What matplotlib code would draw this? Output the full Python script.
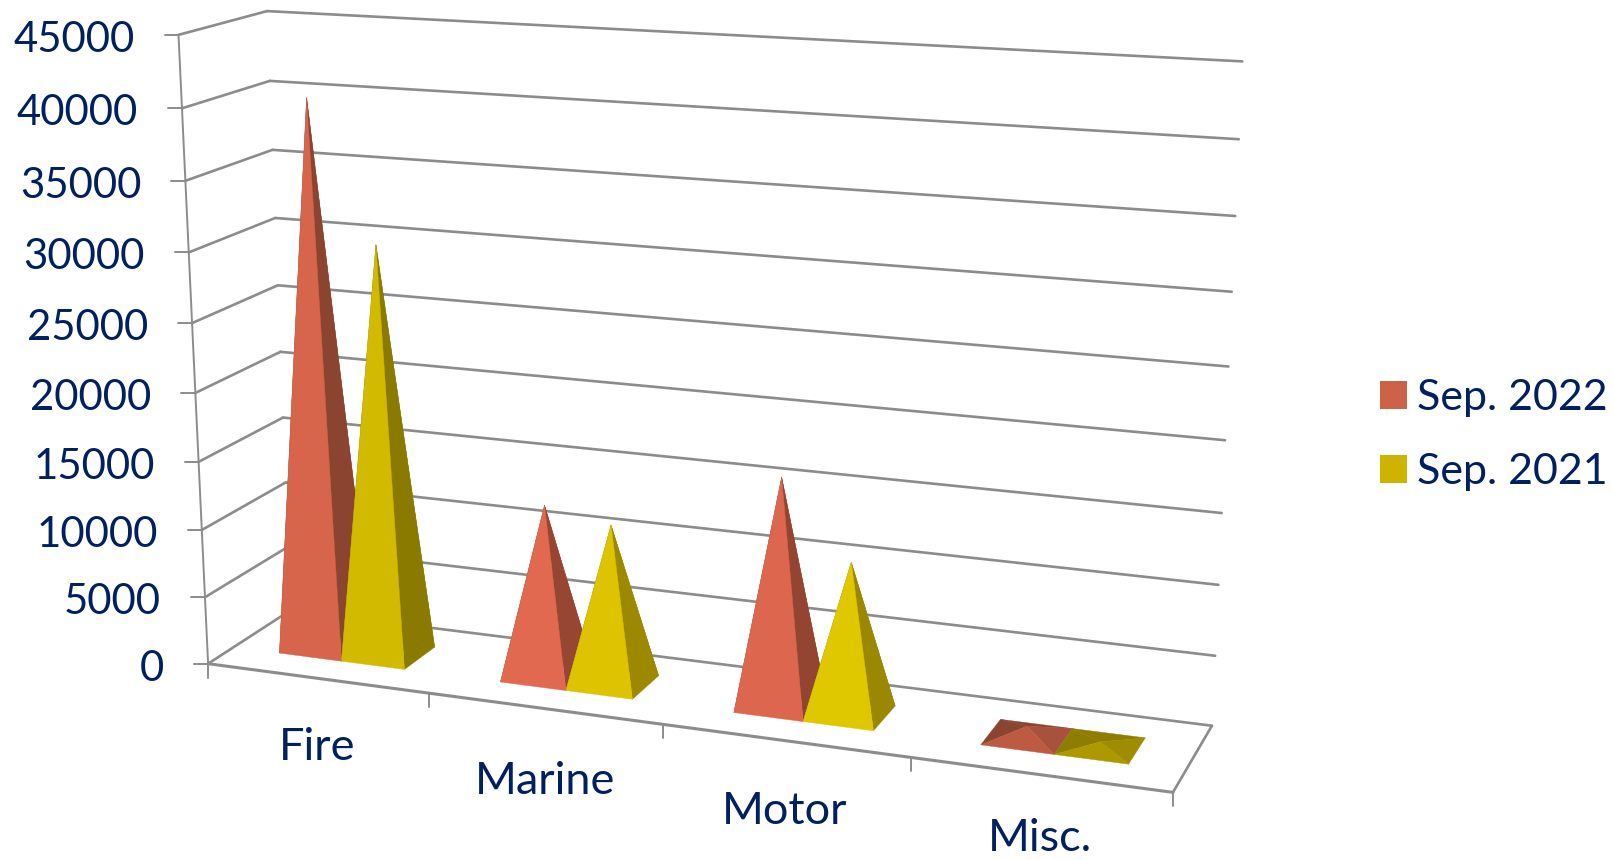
import numpy as np
import matplotlib
matplotlib.use("Agg")
import matplotlib.pyplot as plt
from matplotlib.patches import Polygon, Patch

categories = ["Fire", "Marine", "Motor", "Misc."]
sep_2022 = [40100, 12500, 16300, 750]
sep_2021 = [30100, 11600, 10850, 300]
series_names = ["Sep. 2022", "Sep. 2021"]
value_ticks = [0, 5000, 10000, 15000, 20000, 25000, 30000, 35000, 40000, 45000]

NAVY = "#002060"
GRID = "#8C8C8C"
LEGEND_COLORS = ["#CC6347", "#CCB400"]
LABEL_DROP = [69, 73, 71, 64]
# face shades per category: (front, right, back, left)
RED_SHADES = [("#D6654C", "#8A4430", "#8A4430", "#8A4430"),
              ("#E0694F", "#964633", "#964633", "#964633"),
              ("#DC674E", "#944532", "#944532", "#944532"),
              ("#BD5B42", "#A8513C", "#8A4530", "#8A4530")]
YEL_SHADES = [("#D2BA00", "#8A7A00", "#8A7A00", "#8A7A00"),
              ("#DEC300", "#9C8900", "#9C8900", "#9C8900"),
              ("#E0C800", "#9A8800", "#9A8800", "#9A8800"),
              ("#AE9800", "#A08C00", "#8E7D00", "#8E7D00")]

# camera fit: (category position, value, depth) -> pixel
anchors = [((0, 0, 0), (208, 664)), ((0, 45000, 0), (179, 34.7)),
           ((0, 0, 1), (291.3, 610)), ((0, 45000, 1), (266.6, 11)),
           ((4, 45000, 1), (1242.4, 61.8)), ((4, 0, 1), (1212, 725.7)),
           ((4, 0, 0), (1173.4, 791.7)), ((1, 0, 0), (429, 693)),
           ((2, 0, 0), (663, 725)), ((3, 0, 0), (910, 757.7)),
           ((0, 20000, 0), (195.6, 392.7)), ((0, 20000, 1), (280, 352)),
           ((4, 20000, 1), (1225, 440))]
rows = []
for (c, v, d), (px, py) in anchors:
    X = [c / 4, v / 45000, d, 1]
    u, w = px / 1000, py / 1000
    rows.append(X + [0, 0, 0, 0] + [-u * a for a in X])
    rows.append([0, 0, 0, 0] + X + [-w * a for a in X])
CAM = np.linalg.svd(np.array(rows))[2][-1].reshape(3, 4)


def proj(c, v, d):
    h = CAM @ np.array([c / 4, v / 45000, d, 1])
    return h[0] / h[2] * 1000, h[1] / h[2] * 1000


fig = plt.figure(figsize=(16.14, 8.60), dpi=100)
ax = fig.add_axes([0, 0, 1, 1])
ax.set_xlim(0, 1614)
ax.set_ylim(860, 0)
ax.axis("off")
FONT = "Lato"


def seg(a, b, lw=1.9):
    ax.plot([a[0], b[0]], [a[1], b[1]], color=GRID, lw=lw, solid_capstyle="round", zorder=1)


for v in value_ticks:
    seg(proj(0, v, 0), proj(0, v, 1))
    seg(proj(0, v, 1), proj(4, v, 1))
    p = proj(0, v, 0)
    seg((p[0] - 14, p[1]), p, 1.4)
    ax.text(p[0] - 44, p[1] + 5, str(v), ha="right", va="center", color=NAVY,
            fontsize=30.2, family=FONT)
seg(proj(0, 0, 0), proj(0, 45000, 0), 1.4)
seg(proj(0, 0, 0), proj(4, 0, 0), 2.2)
seg(proj(4, 0, 0), proj(4, 0, 1), 1.9)
for i in range(5):
    p = proj(i, 0, 0)
    seg(p, (p[0], p[1] + 14), 1.4)
for i, name in enumerate(categories):
    p = proj(i + 0.5, 0, 0)
    ax.text(p[0], p[1] + LABEL_DROP[i], name, ha="center", va="center", color=NAVY,
            fontsize=32.5, family=FONT)


def pyramid(c0, c1, value, shades, z):
    d0, d1 = 0.3, 0.7
    fl, fr = proj(c0, 0, d0), proj(c1, 0, d0)
    bl, br = proj(c0, 0, d1), proj(c1, 0, d1)
    apex = proj((c0 + c1) / 2, value, 0.5)
    front, right, back, left = shades
    for pts, col in [((bl, br, apex), back), ((fl, bl, apex), left),
                     ((fr, br, apex), right), ((fl, fr, apex), front)]:
        ax.add_patch(Polygon(pts, closed=True, facecolor=col, edgecolor=col, lw=0.3, zorder=z))


for i in range(len(categories)):
    pyramid(i + 0.214, i + 0.5, sep_2022[i], RED_SHADES[i], 3 + i * 2)
    pyramid(i + 0.5, i + 0.786, sep_2021[i], YEL_SHADES[i], 4 + i * 2)

handles = [Patch(facecolor=c, edgecolor="none", label=n) for c, n in zip(LEGEND_COLORS, series_names)]
ax.legend(handles=handles, loc="center left", bbox_to_anchor=(1380 / 1614, 1 - 435 / 860),
          frameon=False, prop={"family": FONT, "size": 31}, labelcolor=NAVY,
          handlelength=0.62, handleheight=0.62, handletextpad=0.24, labelspacing=0.84,
          borderpad=0, borderaxespad=0)
fig.savefig("out.png", dpi=100, facecolor="white")
